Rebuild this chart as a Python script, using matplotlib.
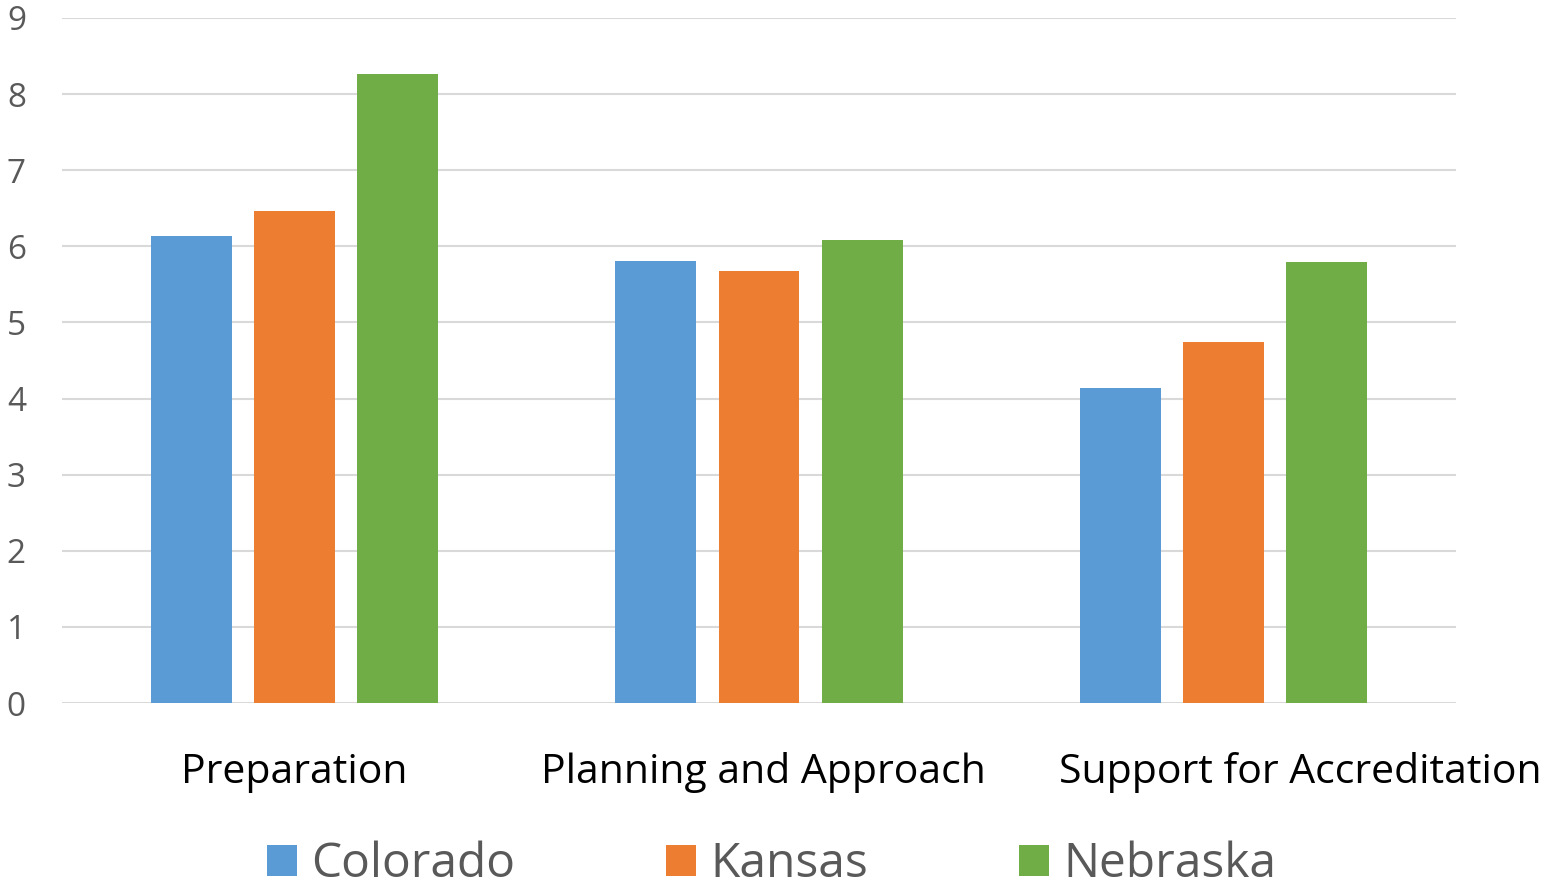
import matplotlib
matplotlib.use("Agg")
import matplotlib.pyplot as plt
import numpy as np

categories = ["Preparation", "Planning and Approach", "Support for Accreditation"]
series_names = ["Colorado", "Kansas", "Nebraska"]
colorado = [6.14, 5.81, 4.14]
kansas = [6.47, 5.68, 4.74]
nebraska = [8.26, 6.08, 5.80]
yticks = list(range(0, 10))

colors = ["#5B9BD5", "#ED7D31", "#70AD47"]
# the last label is pushed right so it stays inside the picture, like Excel does
label_shift = [0, 3, 55]
plt.rcParams["font.family"] = ["Open Sans", "DejaVu Sans"]

fig = plt.figure(figsize=(15.5, 8.86), dpi=100)
ax = fig.add_axes([62 / 1550, (886 - 703) / 886, (1456 - 62) / 1550, (703 - 18) / 886])

x = np.arange(len(categories))
width = 0.174
step = 0.222
for i, (vals, name) in enumerate(zip([colorado, kansas, nebraska], series_names)):
    ax.bar(x + (i - 1) * step, vals, width, color=colors[i], label=name, zorder=3)

ax.set_xlim(-0.5, 2.5)
ax.set_ylim(0, 9)
ax.set_yticks(yticks)
ax.grid(axis="y", color="#D9D9D9", linewidth=1.5, zorder=0)
for s in ax.spines.values():
    s.set_visible(False)
ax.tick_params(axis="y", length=0, pad=26, labelsize=24, labelcolor="#595959")
ax.set_xticks(x)
ax.set_xticklabels([])
ax.tick_params(axis="x", length=0)

trans = ax.get_xaxis_transform()
for xi, cat, dx in zip(x, categories, label_shift):
    ax.annotate(cat, xy=(xi, 0), xycoords=trans, xytext=(dx, -50),
                textcoords="offset points", ha="center", va="center",
                fontsize=29.5, color="black", annotation_clip=False)

leg = fig.legend(loc="center", bbox_to_anchor=(0.498, 0.024), ncol=3, frameon=False,
                 fontsize=34.5, handlelength=0.62, handleheight=0.62, handletextpad=0.3,
                 columnspacing=3.15, borderpad=0.1)
for t in leg.get_texts():
    t.set_color("#595959")

fig.savefig("out.png", dpi=100, facecolor="white")
